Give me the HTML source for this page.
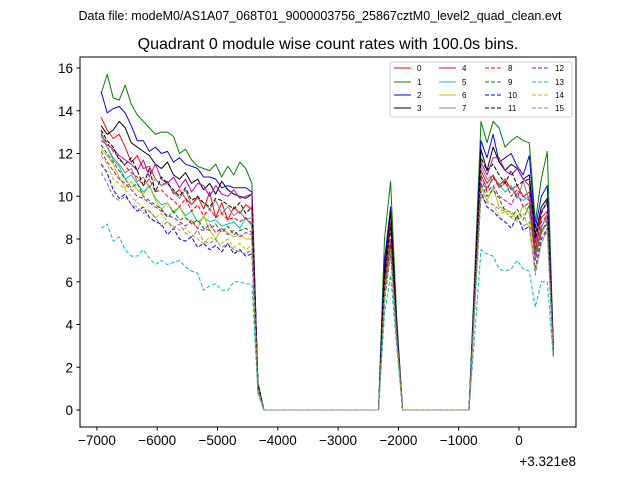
<!DOCTYPE html>
<html><head><meta charset="utf-8"><style>
body{margin:0;background:#fff;}
svg{display:block;font-family:"Liberation Sans","DejaVu Sans",sans-serif;}
</style></head><body>
<svg id="chart" width="640" height="480" viewBox="0 0 640 480" xmlns="http://www.w3.org/2000/svg">
<rect width="640" height="480" fill="#fff"/>
<text x="320" y="20" font-size="12.5" text-anchor="middle">Data file: modeM0/AS1A07_068T01_9000003756_25867cztM0_level2_quad_clean.evt</text>
<text x="328" y="49" font-size="16" text-anchor="middle">Quadrant 0 module wise count rates with 100.0s bins.</text>
<g id="plot"></g>
<rect x="80" y="57" width="496" height="370" fill="none" stroke="#000" stroke-width="1"/>
<g id="axes"></g>
<text x="576" y="466" font-size="13.5" text-anchor="end">+3.321e8</text>
<g id="legend"></g>
</svg>
<script>
const colors=["#ff0000","#008000","#0000ff","#000000","#bf00bf","#00bfbf","#bfbf00","#808080"];
const seriesNames=["0","1","2","3","4","5","6","7","8","9","10","11","12","13","14","15"];
const startTime=-6930;
const binSize=100;
const xTicks=[-7000,-6000,-5000,-4000,-3000,-2000,-1000,0];
const yTicks=[0,2,4,6,8,10,12,14,16];
const segA=[
[13.7,13.1,12.7,12.9,12.3,11.6,11.9,11.3,11.4,10.8,10.5,10.7,10.1,10.3,9.9,9.6,10.0,9.4,10.2,9.0,9.7,8.9,9.5,9.2,9.6,9.4],
[14.8,15.7,14.6,14.5,15.2,14.3,13.8,13.5,13.2,12.9,13.0,13.0,12.8,12.0,12.2,11.7,11.4,11.3,11.2,11.5,10.9,11.4,11.0,11.6,11.3,10.6],
[14.9,13.9,14.1,14.2,13.9,13.3,12.6,12.6,12.1,12.3,12.0,12.1,11.6,11.8,11.5,11.4,11.3,10.9,10.9,10.8,10.4,10.5,10.4,10.4,10.4,10.2],
[13.3,12.9,13.1,13.5,13.2,12.5,12.3,12.1,11.9,11.5,11.3,11.6,11.0,10.8,11.1,10.6,10.8,10.3,10.6,10.1,10.7,10.3,10.1,10.0,9.9,10.1],
[12.6,12.4,12.2,11.9,11.7,11.5,11.2,11.7,10.9,11.5,10.8,10.6,10.9,10.4,10.8,10.2,10.6,10.5,10.0,10.5,10.1,10.0,10.3,9.9,10.0,10.1],
[13.0,12.3,11.7,11.4,10.8,11.0,10.6,10.2,10.5,9.9,9.6,9.7,9.2,9.5,9.1,9.3,8.8,9.0,8.8,8.9,8.6,8.7,8.8,8.5,9.0,8.6],
[12.2,11.9,11.5,10.9,10.4,10.7,10.3,10.1,10.5,9.8,9.4,9.7,9.3,9.5,9.0,8.8,8.5,9.1,8.4,8.0,8.5,8.3,8.1,8.2,8.0,8.0],
[12.8,12.3,11.8,11.5,11.1,11.3,10.7,10.9,10.4,10.8,10.5,10.6,10.2,9.9,10.3,9.6,9.9,9.7,9.4,9.8,9.2,9.5,9.1,9.3,8.9,9.0],
[12.9,12.5,12.1,11.8,11.4,11.1,10.9,10.5,10.8,10.2,10.3,10.0,9.8,9.5,9.9,9.3,9.6,9.1,9.4,9.0,9.2,8.9,9.0,8.8,9.0,8.7],
[12.4,12.0,11.6,11.2,10.8,10.4,10.6,10.0,9.8,9.6,9.4,9.0,9.3,8.9,9.0,8.7,8.9,8.5,8.4,8.7,8.3,8.6,8.2,8.4,8.5,8.3],
[11.5,11.1,10.3,9.9,10.1,9.6,9.3,9.5,9.0,8.8,8.7,8.2,8.5,8.0,7.9,8.1,7.6,7.8,7.5,7.7,7.4,7.8,7.3,7.5,7.2,7.3],
[13.1,12.6,12.3,11.7,11.5,11.8,11.2,10.5,11.3,10.2,10.9,10.6,10.3,10.0,10.4,9.8,10.0,9.7,9.5,9.9,9.8,9.6,9.4,9.7,9.2,9.5],
[12.1,11.6,11.2,10.8,10.6,10.3,10.0,9.9,9.7,9.5,9.3,9.1,9.0,8.8,8.6,8.9,8.5,8.4,8.7,8.3,8.5,8.2,8.4,8.1,8.3,8.2],
[8.5,8.7,7.9,8.1,7.5,7.2,7.2,7.5,7.1,6.8,7.0,6.8,6.9,7.0,6.7,6.5,6.4,5.6,5.8,5.9,5.6,5.6,6.0,6.0,5.9,5.9],
[11.9,11.5,10.8,10.6,10.3,10.0,9.7,9.5,9.3,9.0,9.2,8.8,8.6,8.4,8.5,8.2,8.0,7.8,8.1,7.9,7.8,8.0,7.6,7.8,7.5,7.7],
[11.1,10.6,10.0,9.8,10.0,9.6,9.5,9.2,9.3,9.0,8.6,8.8,8.5,8.7,8.3,8.1,8.4,7.9,7.8,8.0,7.6,7.8,7.5,7.4,7.3,7.5]];
const tailA=[1.2,1.3,1.2,1.2,1.1,1.1,1.0,1.1,1.1,1.0,0.9,1.2,1.0,0.8,1.0,0.9];
const peak=[[6.2,8.8,3.8],[8.0,10.7,4.4],[7.0,9.5,4.2],[6.5,9.3,4.0],[6.0,8.0,3.8],[5.5,7.8,3.5],[5.5,7.5,3.5],[5.6,8.0,3.6],
[6.0,8.5,3.8],[5.5,7.8,3.5],[5.2,7.3,3.4],[6.2,8.6,3.9],[5.4,7.8,3.6],[4.5,6.3,3.0],[5.3,7.5,3.4],[5.0,7.3,3.4]];
const riseC=[5.6,6.7,6.3,6.1,5.8,5.5,5.2,5.7,5.5,5.3,5.1,5.9,5.4,3.7,5.1,5.0];
const segC=[
[11.2,10.6,11.0,10.5,10.8,10.3,10.5,10.0,10.2,7.5,9.0,9.3,2.7],
[13.5,12.5,13.5,13.2,12.3,12.6,12.8,12.6,12.5,8.8,10.8,12.1,3.0],
[12.6,11.8,12.9,11.6,11.8,12.0,11.4,11.0,11.9,8.5,10.0,10.5,3.0],
[12.2,11.2,12.3,11.6,11.2,11.5,11.3,10.8,11.0,8.2,9.5,9.9,2.8],
[11.6,11.0,11.8,11.8,11.2,11.0,11.3,10.8,10.5,7.8,9.3,9.7,2.8],
[11.0,10.4,10.8,10.6,10.2,10.5,10.0,9.8,10.0,7.3,8.6,9.0,2.6],
[10.5,9.8,10.4,9.5,9.4,9.2,8.9,9.6,9.2,7.0,8.2,8.8,2.6],
[11.4,10.8,11.0,10.4,10.6,10.4,9.9,10.7,9.8,7.2,8.5,9.2,2.7],
[11.0,10.3,10.9,10.4,10.7,10.0,10.3,10.0,9.8,7.5,8.8,9.1,2.7],
[10.6,10.0,10.3,9.9,9.3,9.0,9.4,8.9,9.6,7.3,8.4,8.7,2.6],
[10.2,9.5,9.3,9.0,8.8,8.5,9.1,8.4,8.6,6.6,8.0,8.5,2.5],
[11.8,11.2,11.5,11.0,10.6,11.2,10.5,10.7,10.8,8.0,9.2,9.8,2.8],
[10.8,10.2,10.5,10.0,9.8,9.6,10.2,9.5,9.7,7.0,8.3,8.9,2.6],
[7.5,7.3,7.2,6.6,6.5,6.6,7.0,6.6,6.5,4.8,6.0,6.0,2.4],
[10.3,9.8,9.6,9.1,9.3,9.0,8.8,9.2,8.5,6.5,7.8,8.4,2.5],
[10.0,9.7,9.6,9.4,9.3,9.3,9.0,8.6,8.8,6.3,7.8,8.4,2.5]];
const zeros1=[0,0,0,0,0,0,0,0,0,0,0,0,0,0,0,0,0,0,0,0];
const zeros2=[0,0,0,0,0,0,0,0,0,0,0,0];

const NS="http://www.w3.org/2000/svg";
function xs(t){return 519+(t)*0.0603;}
function ys(v){return 410-v*21.375;}
function mk(tag,attrs,parent){const e=document.createElementNS(NS,tag);for(const k in attrs)e.setAttribute(k,attrs[k]);parent.appendChild(e);return e;}
const plot=document.getElementById('plot');
const axes=document.getElementById('axes');
for(let s=0;s<16;s++){
  const vals=segA[s].concat([tailA[s]],zeros1,peak[s],zeros2,[riseC[s]],segC[s]);
  const pts=vals.map((v,i)=>xs(startTime+i*binSize).toFixed(1)+","+ys(v).toFixed(1)).join(" ");
  const a={points:pts,fill:"none",stroke:colors[s%8],"stroke-width":"1","stroke-linejoin":"round"};
  if(s>=8)a["stroke-dasharray"]="4,2";
  const pl=mk('polyline',a,plot);
  
  
}
xTicks.forEach(t=>{
  const x=xs(t);
  const l=mk('line',{x1:x,x2:x,y1:427,y2:430.5,stroke:"#000"},axes);
  
  
  const tx=mk('text',{x:x,y:445,"font-size":"13.5","text-anchor":"middle"},axes);
  tx.textContent=(t<0?"\u2212"+(-t):String(t));
  
  
});
yTicks.forEach(v=>{
  const y=ys(v);
  const l=mk('line',{x1:76.5,x2:80,y1:y,y2:y,stroke:"#000"},axes);
  
  
  const tx=mk('text',{x:73,y:y+5,"font-size":"13.5","text-anchor":"end"},axes);
  tx.textContent=String(v);
  
  
});
const lg=document.getElementById('legend');
const box=mk('rect',{x:390,y:62,width:182,height:55,rx:2,fill:"#fff",stroke:"#ccc","stroke-width":"1"},lg);


const colX=[394,439,485,532];
const rowY=[68,82,95,108];
for(let s=0;s<16;s++){
  const c=Math.floor(s/4),r=s%4;
  const a={x1:colX[c],x2:colX[c]+17,y1:rowY[r],y2:rowY[r],stroke:colors[s%8],"stroke-width":"1"};
  if(s>=8)a["stroke-dasharray"]="4,2";
  const l=mk('line',a,lg);
  
  
  const t=mk('text',{x:colX[c]+23,y:rowY[r]+3,"font-size":"8"},lg);
  t.textContent=seriesNames[s];
  
  
}
</script>
</body></html>
